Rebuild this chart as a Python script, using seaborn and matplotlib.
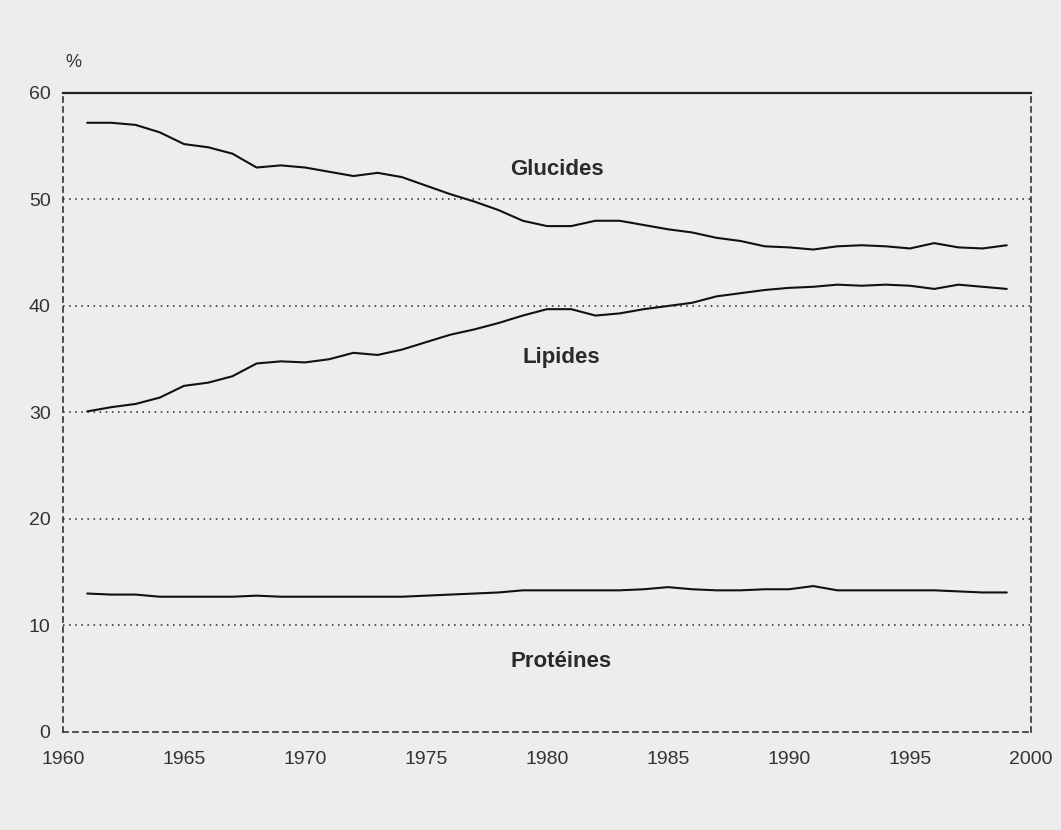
import pandas as pd
import seaborn as sns
from matplotlib import pyplot as plt

years = list(range(1961, 2000))

glucides = [57.2, 57.2, 57.0, 56.3, 55.2, 54.9, 54.3, 53.0, 53.2, 53.0,
            52.6, 52.2, 52.5, 52.1, 51.3, 50.5, 49.8, 49.0, 48.0, 47.5,
            47.5, 48.0, 48.0, 47.6, 47.2, 46.9, 46.4, 46.1, 45.6, 45.5,
            45.3, 45.6, 45.7, 45.6, 45.4, 45.9, 45.5, 45.4, 45.7]

lipides = [30.1, 30.5, 30.8, 31.4, 32.5, 32.8, 33.4, 34.6, 34.8, 34.7,
           35.0, 35.6, 35.4, 35.9, 36.6, 37.3, 37.8, 38.4, 39.1, 39.7,
           39.7, 39.1, 39.3, 39.7, 40.0, 40.3, 40.9, 41.2, 41.5, 41.7,
           41.8, 42.0, 41.9, 42.0, 41.9, 41.6, 42.0, 41.8, 41.6]

proteines = [13.0, 12.9, 12.9, 12.7, 12.7, 12.7, 12.7, 12.8, 12.7, 12.7,
             12.7, 12.7, 12.7, 12.7, 12.8, 12.9, 13.0, 13.1, 13.3, 13.3,
             13.3, 13.3, 13.3, 13.4, 13.6, 13.4, 13.3, 13.3, 13.4, 13.4,
             13.7, 13.3, 13.3, 13.3, 13.3, 13.3, 13.2, 13.1, 13.1]

series_names = ['Glucides', 'Lipides', 'Protéines']
# label positions (year, value)
label_pos = {'Glucides': (1980.4, 52.8), 'Lipides': (1980.6, 35.2), 'Protéines': (1980.6, 6.6)}

x_ticks = list(range(1960, 2001, 5))
y_ticks = list(range(0, 61, 10))

df = pd.DataFrame({'annee': years * 3,
                   'part': glucides + lipides + proteines,
                   'serie': [n for n in series_names for _ in years]})

sns.set_style('white')
plt.rcParams['font.family'] = ['Liberation Sans', 'DejaVu Sans']

fig = plt.figure(figsize=(10.61, 8.3), dpi=100)
fig.patch.set_facecolor('#ededed')
ax = fig.add_axes([0.0594, 0.1181, 0.9123, 0.7699])
ax.set_facecolor('#ededed')

sns.lineplot(data=df, x='annee', y='part', units='serie', estimator=None,
             color='#111111', linewidth=1.5, ax=ax, legend=False)

for name, (xp, yp) in label_pos.items():
    ax.text(xp, yp, name, ha='center', va='center', fontsize=16,
            fontweight='bold', color='#2a2a2a')

ax.set_xlim(1960, 2000)
ax.set_ylim(0, 60)
ax.set_xticks(x_ticks)
ax.set_yticks(y_ticks)
ax.tick_params(axis='x', direction='in', length=5, labelsize=14, pad=14, colors='#333333')
ax.tick_params(axis='y', direction='out', length=5, labelsize=14, pad=4, colors='#333333')
ax.set_xlabel('')
ax.set_ylabel('')

for y in y_ticks[1:-1]:
    ax.axhline(y, color='#222222', linestyle=(0, (1, 3)), linewidth=1.1)

for side in ['left', 'right', 'bottom']:
    ax.spines[side].set_linestyle((0, (3, 3)))
    ax.spines[side].set_color('#333333')
    ax.spines[side].set_linewidth(1.2)
ax.spines['top'].set_color('#222222')
ax.spines['top'].set_linewidth(1.6)

ax.text(0.002, 1.04, '%', transform=ax.transAxes, fontsize=13, color='#333333')

fig.savefig('out.png', dpi=100, facecolor=fig.get_facecolor())
